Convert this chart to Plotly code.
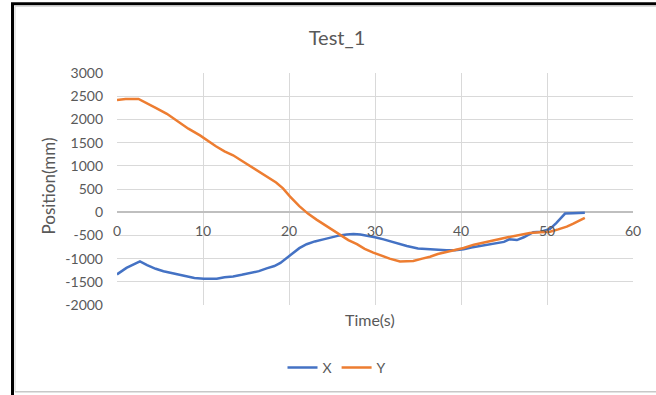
import plotly.graph_objects as go

# ---- data ----
time_x = [0, 0.5, 1.1, 2.0, 2.67, 3.5, 4.5, 5.4, 6.5, 7.75, 9, 10.1, 11.6, 12.5, 13.5, 14.5,
          15.5, 16.5, 17.4, 18.3, 19, 20.1, 21.2, 22.05, 23, 24, 25, 25.9, 26.7, 27.5, 28.3,
          29, 30, 31, 32, 33, 33.7, 35, 36.4, 37.3, 38.3, 39.3, 40.3, 41.2, 42.2, 43.2, 44.1,
          45, 45.6, 46.5, 47.3, 48.4, 49.3, 50.35, 51.1, 51.6, 52.1, 53, 54.4]
pos_x = [-1340, -1270, -1200, -1120, -1060, -1140, -1220, -1272, -1320, -1380, -1420, -1435,
         -1435, -1400, -1385, -1350, -1310, -1270, -1210, -1160, -1093, -930, -775, -690, -630,
         -585, -535, -500, -480, -470, -480, -500, -540, -585, -640, -700, -730, -780, -800,
         -810, -820, -820, -800, -760, -730, -700, -675, -640, -585, -600, -540, -430, -420,
         -360, -230, -120, -30, -20, -10]

time_y = [0, 1, 2.5, 3.5, 4.5, 5.8, 7, 8.3, 9.65, 10.5, 11.5, 12.5, 13.5, 14.5, 15.5, 16.5,
          17.4, 18.5, 19.3, 20.1, 21.2, 22.2, 23.2, 24.5, 25.9, 26.9, 27.9, 28.8, 29.8, 30.8,
          31.7, 32.9, 34.45, 35.5, 36.4, 37.3, 38.3, 39.3, 40.3, 41.5, 42.6, 44, 45.3, 46.6,
          48, 49.2, 50.35, 51.3, 52.3, 53, 53.5, 54.4]
pos_y = [2420, 2440, 2440, 2350, 2250, 2120, 1960, 1800, 1655, 1540, 1420, 1310, 1227, 1110,
         990, 870, 762, 640, 514, 340, 130, -30, -160, -310, -480, -600, -690, -790, -870,
         -940, -1000, -1060, -1050, -1000, -960, -900, -860, -820, -770, -700, -650, -600,
         -545, -500, -450, -430, -420, -370, -310, -250, -200, -120]

x_tick_vals = [0, 10, 20, 30, 40, 50, 60]
y_tick_vals = [3000, 2500, 2000, 1500, 1000, 500, 0, -500, -1000, -1500, -2000]
y_tick_text = ["3000", "2500", "2000", "1500", "1000", "500", "0", "-500", "-1000", "-1500", "-2000"]

FONT = "Lato, Open Sans, sans-serif"
GREY = "#595959"

fig = go.Figure()
fig.add_trace(go.Scatter(x=time_x, y=pos_x, mode="lines", name="X",
                         line=dict(color="#4472C4", width=2.5)))
fig.add_trace(go.Scatter(x=time_y, y=pos_y, mode="lines", name="Y",
                         line=dict(color="#ED7D31", width=2.5)))

# layout geometry (pixels): plot area 117..633 x 73..306
L, R, T, B = 117, 633, 73, 306
W, H = 656, 395
def px(xp):
    return (xp - L) / (R - L)
def py(yp):
    return (B - yp) / (B - T)

fig.update_layout(
    width=W, height=H,
    margin=dict(l=L, r=W - R, t=T, b=H - B),
    paper_bgcolor="white", plot_bgcolor="white",
    font=dict(family=FONT, color=GREY, size=14),
    title=dict(text="Test_1", x=337 / W, xanchor="center", y=1 - 38 / H, yanchor="middle",
               font=dict(size=20, color=GREY, family=FONT)),
    showlegend=True,
    legend=dict(orientation="h", x=px(337), xanchor="center", y=py(368), yanchor="middle",
                font=dict(size=14, color=GREY), bgcolor="rgba(0,0,0,0)"),
    xaxis=dict(range=[0, 60], tickvals=x_tick_vals, showgrid=True, gridcolor="#d9d9d9",
               gridwidth=1, zeroline=False, showline=False, anchor="free", position=py(212.7),
               ticks="", ticklabelstandoff=9, tickfont=dict(size=14, color=GREY)),
    yaxis=dict(range=[-2000, 3000], tickvals=y_tick_vals, ticktext=y_tick_text, showgrid=True,
               gridcolor="#d9d9d9", gridwidth=1, zeroline=True, zerolinecolor="#bfbfbf",
               zerolinewidth=1.5, showline=False, ticks="", ticklabelstandoff=13,
               tickfont=dict(size=14, color=GREY)),
    annotations=[
        dict(text="Time(s)", x=px(370), y=py(321), xref="paper", yref="paper",
             showarrow=False, xanchor="center", yanchor="middle",
             font=dict(size=16, color=GREY)),
        dict(text="Position(mm)", x=px(49), y=py(187), xref="paper", yref="paper",
             showarrow=False, xanchor="center", yanchor="middle", textangle=-90,
             font=dict(size=17, color=GREY)),
    ],
    shapes=[
        # outer chart frame: black on top/left, grey inner edge
        dict(type="line", xref="paper", yref="paper", x0=px(12.5), x1=px(12.5),
             y0=py(3), y1=py(400), line=dict(color="black", width=3)),
        dict(type="line", xref="paper", yref="paper", x0=px(11), x1=px(660),
             y0=py(3.5), y1=py(3.5), line=dict(color="black", width=3)),
        dict(type="line", xref="paper", yref="paper", x0=px(15), x1=px(15),
             y0=py(6), y1=py(393), line=dict(color="#d0d0d0", width=1)),
        dict(type="line", xref="paper", yref="paper", x0=px(15), x1=px(660),
             y0=py(6), y1=py(6), line=dict(color="#d0d0d0", width=1)),
        dict(type="line", xref="paper", yref="paper", x0=px(15), x1=px(660),
             y0=py(393), y1=py(393), line=dict(color="#c8c8c8", width=1.5)),
    ],
)

fig.write_html("out.html", config={"displayModeBar": False})

# remove the default page margin so the figure sits at the window origin
with open("out.html", encoding="utf-8") as f:
    html = f.read()
html = html.replace("<head>", "<head><style>html,body{margin:0;padding:0;overflow:hidden;}</style>", 1)
with open("out.html", "w", encoding="utf-8") as f:
    f.write(html)
